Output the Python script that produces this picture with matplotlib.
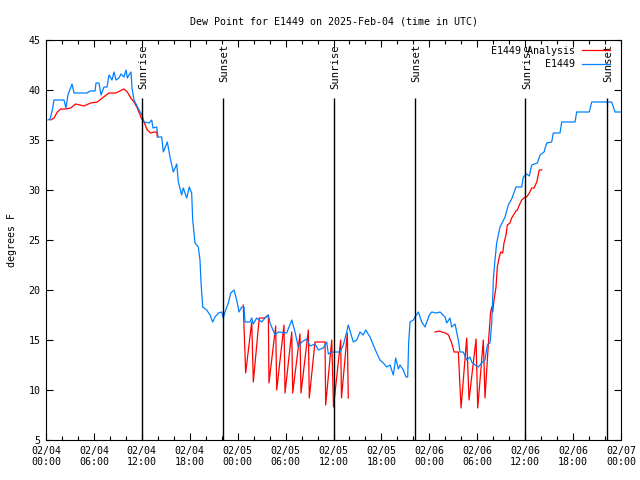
import numpy as np
import matplotlib
matplotlib.use("Agg")
import matplotlib.pyplot as plt
from matplotlib.ticker import MultipleLocator

# hours since 2025-02-04 00:00 UTC
obs_hours = [0.25, 0.50, 0.79, 1.00, 2.25, 2.50, 2.75, 3.26, 3.51, 5.13, 5.51, 6.14, 6.26, 6.64,
             6.89, 7.26, 7.64, 7.89, 8.26, 8.51, 8.77, 9.14, 9.39, 9.77, 10.02, 10.18, 10.39,
             10.64, 10.77, 11.02, 11.65, 12.02, 12.27, 12.90, 13.24, 13.40, 13.86, 14.02, 14.49,
             14.69, 15.19, 15.53, 15.94, 16.37, 16.57, 16.99, 17.19, 17.62, 17.94, 18.24, 18.37,
             18.66, 19.07, 19.28, 19.41, 19.62, 20.12, 20.54, 20.87, 21.16, 21.58, 22.00, 22.20,
             22.41, 22.83, 23.13, 23.54, 23.88, 24.17, 24.51, 24.79, 24.92, 25.54, 25.76, 25.96,
             26.38, 27.01, 27.42, 27.84, 28.05, 28.68, 29.09, 30.14, 30.77, 31.18, 31.59, 32.02,
             32.64, 33.06, 33.68, 34.10, 34.72, 35.15, 35.35, 35.77, 36.81, 37.23, 37.65, 37.85,
             38.48, 38.91, 39.32, 39.73, 40.03, 40.57, 40.98, 41.41, 41.82, 42.24, 42.66, 43.08,
             43.49, 43.79, 44.12, 44.33, 44.74, 45.08, 45.29, 45.42, 45.58, 45.99, 46.21, 46.62,
             47.05, 47.46, 48.00, 48.30, 48.92, 49.34, 49.96, 50.18, 50.59, 50.80, 51.22, 51.43,
             51.63, 51.84, 52.25, 52.68, 53.09, 53.31, 53.72, 54.13, 54.56, 54.97, 55.26, 55.60,
             55.81, 55.93, 56.01, 56.22, 56.43, 56.85, 57.48, 57.89, 58.31, 58.85, 59.57, 59.77,
             60.19, 60.52, 60.82, 61.52, 61.86, 62.36, 62.70, 63.32, 63.52, 64.36, 64.58, 66.24,
             66.45, 68.03, 68.33, 70.84, 71.25, 72.00]
obs_dewpt = [37.0, 37.1, 38.0, 39.0, 39.0, 38.2, 39.5, 40.6, 39.7, 39.7, 39.9, 39.9, 40.7, 40.7,
             39.5, 40.3, 40.3, 41.5, 41.0, 41.8, 41.0, 41.2, 41.6, 41.3, 42.0, 41.2, 41.5,
             41.8, 40.2, 39.0, 38.0, 37.5, 36.8, 36.7, 37.0, 36.2, 36.3, 35.3, 35.3,
             33.8, 34.8, 33.3, 31.8, 32.6, 30.8, 29.5, 30.2, 29.2, 30.3, 29.7, 27.0,
             24.7, 24.3, 23.0, 20.8, 18.3, 18.0, 17.5, 16.8, 17.3, 17.7, 17.8, 17.2,
             17.8, 18.7, 19.7, 20.0, 19.0, 17.8, 18.3, 18.3, 16.8, 16.8, 17.2, 16.6,
             17.2, 16.8, 17.2, 17.5, 16.7, 15.5, 15.8, 15.7, 17.0, 15.8, 14.3, 14.8,
             15.1, 14.4, 14.6, 14.0, 14.2, 14.8, 13.6, 13.8, 13.8, 14.5, 15.8, 16.5,
             14.8, 15.0, 15.8, 15.5, 16.0, 15.3, 14.5, 13.7, 13.0, 12.7, 12.3, 12.5,
             11.5, 13.2, 12.1, 12.5, 12.0, 11.3, 11.3, 14.8, 16.8, 17.0, 17.3, 17.8,
             16.8, 16.3, 17.5, 17.8, 17.7, 17.8, 17.3, 16.7, 17.2, 16.3, 16.6, 15.8,
             15.0, 13.8, 13.8, 13.0, 13.3, 12.8, 12.5, 12.3, 12.7, 13.0, 14.5, 14.7,
             16.7, 19.0, 21.0, 23.0, 24.7, 26.3, 27.3, 28.5, 29.1, 30.3, 30.3, 31.3,
             31.6, 31.4, 32.5, 32.7, 33.5, 33.8, 34.7, 34.8, 35.7, 35.7, 36.8, 36.8,
             37.8, 37.8, 38.8, 38.8, 37.8, 37.8]

# analysis series, NaN marks the gaps
ana_hours = [0.59, 1.00, 1.42, 1.84, 2.47, 3.09, 3.72, 4.76, 5.60, 6.42, 7.05, 7.89, 8.73, 9.77,
             10.18, 10.61, 11.02, 11.43, 11.93, 12.27, 12.68, 13.11, 13.52, 13.86, 13.94, 14.0,
             24.70, 25.00, 25.76, 25.96, 26.70, 27.40, 27.84, 27.92, 28.76, 28.89, 29.80, 29.93,
             30.77, 30.89, 31.80, 31.93, 32.85, 32.97, 33.68, 34.94, 35.02, 35.78, 36.00, 36.90,
             37.00, 37.73, 37.85, 38.0,
             48.70, 49.20, 50.00, 50.40, 50.80, 51.10, 51.63, 51.97, 52.68, 52.97, 53.85, 54.06,
             54.76, 54.97, 55.38, 55.66, 55.81, 55.93, 56.10, 56.35, 56.51, 56.76, 56.94, 57.19,
             57.35, 57.60, 57.77, 58.10, 58.31, 58.85, 59.02, 59.27, 59.57, 59.98, 60.19, 60.52,
             60.82, 61.11, 61.45, 61.77, 62.07]
ana_dewpt = [37.0, 37.2, 37.8, 38.1, 38.1, 38.2, 38.6, 38.4, 38.7, 38.8, 39.2, 39.7, 39.7, 40.1,
             39.8, 39.2, 38.8, 38.2, 37.2, 36.8, 36.0, 35.7, 35.8, 35.8, 35.3, np.nan,
             18.5, 11.7, 16.8, 10.8, 17.2, 17.2, 17.5, 10.7, 16.4, 10.0, 16.5, 9.7,
             15.8, 9.7, 15.6, 9.7, 16.0, 9.2, 14.8, 14.8, 8.5, 15.0, 8.3, 15.0,
             9.2, 15.7, 9.2, np.nan,
             15.8, 15.9, 15.7, 15.5, 14.7, 13.8, 13.8, 8.2, 15.2, 9.0, 15.1, 8.2,
             15.0, 9.2, 14.5, 17.7, 18.3, 17.8, 19.0, 20.3, 22.3, 23.3, 23.8, 23.7,
             24.7, 25.5, 26.5, 26.7, 27.2, 27.9, 28.0, 28.5, 29.0, 29.3, 29.3, 29.7,
             30.2, 30.2, 30.8, 32.0, 32.0]

sun_hours = [12.02, 22.17, 36.03, 46.20, 60.00, 70.23]
sun_labels = ["Sunrise", "Sunset", "Sunrise", "Sunset", "Sunrise", "Sunset"]

tick_hours = list(range(0, 73, 6))
tick_labels = ["02/04\n00:00", "02/04\n06:00", "02/04\n12:00", "02/04\n18:00",
               "02/05\n00:00", "02/05\n06:00", "02/05\n12:00", "02/05\n18:00",
               "02/06\n00:00", "02/06\n06:00", "02/06\n12:00", "02/06\n18:00",
               "02/07\n00:00"]

plt.rcParams['font.family'] = ['DejaVu Sans Mono']
plt.rcParams['font.size'] = 7.2

fig = plt.figure(figsize=(6.4, 4.8), dpi=100)
ax = fig.add_axes([46 / 640, 40 / 480, 575 / 640, 400 / 480])

ax.plot(ana_hours, ana_dewpt, color='#ff0000', lw=0.9, label='E1449 Analysis')
ax.plot(obs_hours, obs_dewpt, color='#0080ff', lw=0.9, label='E1449')

# sunrise / sunset markers
for h, lab in zip(sun_hours, sun_labels):
    ax.vlines(h, 5, 39.2, color='black', lw=1)
    ax.text(h + 0.2, 44.6, lab, rotation=90, ha='center', va='top', fontsize=7.6)

ax.set_xlim(0, 72)
ax.set_ylim(5, 45)
ax.set_xticks(tick_hours)
ax.set_xticklabels(tick_labels)
ax.xaxis.set_minor_locator(MultipleLocator(2))
ax.yaxis.set_major_locator(MultipleLocator(5))
ax.tick_params(which='both', direction='in', top=True, right=True, width=0.8)
ax.tick_params(which='major', length=5, pad=4)
ax.tick_params(which='minor', length=3)

ax.set_ylabel('degrees F', labelpad=8)
ax.set_title('Dew Point for E1449 on 2025-Feb-04 (time in UTC)', fontsize=7.2, pad=11)

ax.legend(loc='upper right', bbox_to_anchor=(0.988, 0.995), frameon=False, markerfirst=False,
          handlelength=2.8, borderaxespad=0, labelspacing=0.35, handletextpad=0.7)

fig.savefig('out.png', dpi=100)
